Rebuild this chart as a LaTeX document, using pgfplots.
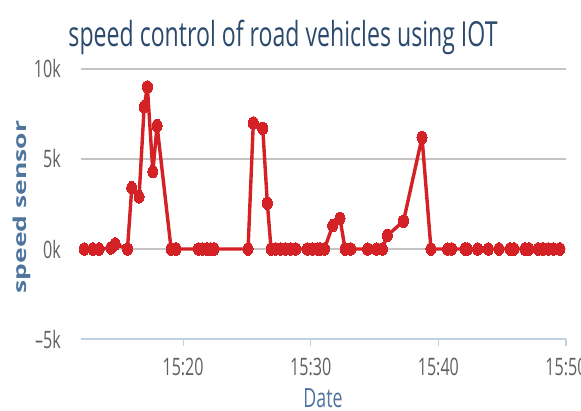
\documentclass[border=0pt]{standalone}
\usepackage{fontspec}
\setmainfont{Open Sans}[FakeStretch=0.67]
\newfontfamily\ylfont{Open Sans}
\usepackage{pgfplots}
\pgfplotsset{compat=1.18}
\definecolor{titlec}{HTML}{2B4A6E}
\definecolor{axtitle}{HTML}{4D759E}
\definecolor{tickc}{HTML}{606060}
\definecolor{gridc}{HTML}{C4C4C4}
\definecolor{axisc}{HTML}{C0D0E0}
\definecolor{linec}{HTML}{D42126}
\begin{document}
\begin{tikzpicture}
\path[use as bounding box] (-81bp,-72bp) rectangle (500bp,339bp);
\begin{axis}[
  at={(0,0)}, anchor=south west,
  scale only axis, width=485bp, height=270bp,
  xmin=12, xmax=50, ymin=-5000, ymax=10000,
  clip=false, scaled y ticks=false,
  axis x line*=bottom, axis y line*=left,
  x axis line style={draw=axisc, line width=1.6bp},
  y axis line style={draw=none},
  ytick style={draw=none},
  xtick style={draw=axisc, line width=1.2bp},
  major tick length=7bp, tick align=outside,
  xtick={20,30,40,50}, xticklabels={15:20,15:30,15:40,15:50},
  ytick={-5000,0,5000,10000}, yticklabels={--5k,0k,5k,10k},
  ymajorgrids, major grid style={draw=gridc, line width=1.6bp},
  /pgf/number format/assume math mode=true,
  ticklabel style={font=\fontsize{24bp}{28bp}\selectfont, text=tickc},
  yticklabel style={inner sep=0pt, anchor=east, xshift=-13bp},
  xticklabel style={inner sep=0pt, anchor=north, yshift=-12bp},
  title={speed control of road vehicles using IOT},
  title style={font=\fontsize{34.5bp}{40bp}\selectfont, text=titlec, at={(axis description cs:0.4165,1.063)}, anchor=base, inner sep=0pt},
  xlabel={Date},
  xlabel style={font=\fontsize{26.5bp}{30bp}\selectfont, text=axtitle, at={(axis description cs:0.499,-0.252)}, anchor=base, inner sep=0pt},
  ylabel={\scalebox{1}[0.67]{\ylfont\bfseries speed sensor}},
  ylabel style={font=\fontsize{26.5bp}{30bp}\selectfont, text=axtitle, at={(axis description cs:-0.1216,0.489)}, anchor=center, inner sep=0pt},
]
\addplot[color=linec, line width=3.4bp, line join=round, mark=*, mark size=6.3bp, mark options={xscale=0.8, fill=linec, draw=linec, line width=0pt}] coordinates {
(12.25,0) (12.93,0) (13.42,0) (14.34,60) (14.68,280) (15.64,0) (15.98,3400) (16.55,2900)
(16.95,7900) (17.20,9000) (17.63,4300) (17.96,6850) (19.06,0) (19.45,0) (21.20,0) (21.54,0)
(21.86,0) (22.17,0) (22.43,0) (25.09,0) (25.50,7000) (26.24,6700) (26.60,2550) (26.89,0)
(27.26,0) (27.65,0) (28.04,0) (28.43,0) (28.83,0) (29.73,0) (30.13,0) (30.52,0) (30.73,0)
(31.07,0) (31.72,1300) (32.29,1700) (32.69,0) (33.13,0) (34.46,0) (35.17,0) (35.61,0)
(36.00,750) (37.27,1550) (38.72,6200) (39.42,0) (40.73,0) (41.04,0) (42.08,0) (42.26,0)
(43.08,0) (43.91,0) (44.75,0) (45.61,0) (45.92,0) (46.78,0) (47.10,0) (47.82,0) (48.21,0)
(48.61,0) (49.00,0) (49.52,0)
};
\end{axis}
\end{tikzpicture}
\end{document}
